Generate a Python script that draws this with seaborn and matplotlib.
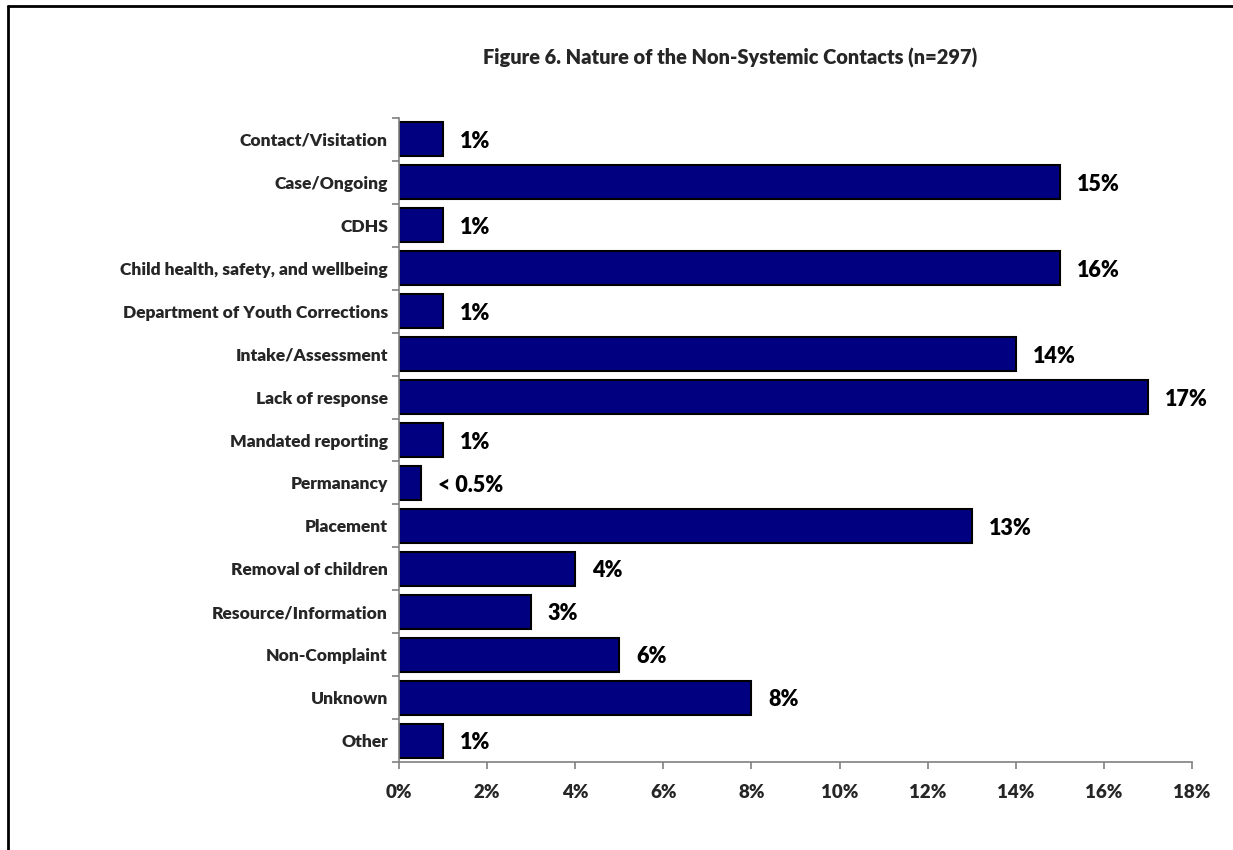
import matplotlib
matplotlib.use("Agg")
import matplotlib.pyplot as plt
from matplotlib.lines import Line2D
from matplotlib.ticker import MultipleLocator, FuncFormatter
import pandas as pd
import seaborn as sns

# data
categories = [
    "Contact/Visitation", "Case/Ongoing", "CDHS",
    "Child health, safety, and wellbeing", "Department of Youth Corrections",
    "Intake/Assessment", "Lack of response", "Mandated reporting",
    "Permanancy", "Placement", "Removal of children",
    "Resource/Information", "Non-Complaint", "Unknown", "Other",
]
percent = [1, 15, 1, 15, 1, 14, 17, 1, 0.5, 13, 4, 3, 5, 8, 1]
value_labels = ["1%", "15%", "1%", "16%", "1%", "14%", "17%", "1%",
                "< 0.5%", "13%", "4%", "3%", "6%", "8%", "1%"]

df = pd.DataFrame({"category": categories, "percent": percent})

WEIGHT = "heavy"

sns.set_style("white")
plt.rcParams["font.family"] = ["Lato", "DejaVu Sans"]
plt.rcParams["font.weight"] = WEIGHT

fig = plt.figure(figsize=(12.33, 8.5), dpi=100)
ax = fig.add_axes([0.3236, 0.1035, 0.6431, 0.7577])

sns.barplot(data=df, x="percent", y="category", orient="h", ax=ax,
            color="#000080", saturation=1, width=0.79,
            edgecolor="black", linewidth=1.5)

for i, (v, lab) in enumerate(zip(percent, value_labels)):
    ax.text(v + 0.38, i + 0.05, lab, va="center", ha="left",
            fontsize=15.5, fontweight=WEIGHT, color="black")

ax.set_xlim(0, 18)
ax.set_ylim(len(categories) - 0.5, -0.5)
ax.xaxis.set_major_locator(MultipleLocator(2))
ax.xaxis.set_major_formatter(FuncFormatter(lambda x, _: f"{x:.0f}%"))
ax.set_xlabel("")
ax.set_ylabel("")

# category boundary ticks on the y axis
ax.set_yticks([i - 0.5 for i in range(len(categories) + 1)], minor=True)
ax.tick_params(axis="y", which="major", length=0, pad=8, labelsize=12.55)
ax.tick_params(axis="y", which="minor", length=5, width=1.2, color="#808080",
               direction="out", left=True)
ax.tick_params(axis="x", which="major", length=5, width=1.2, color="#808080",
               direction="out", bottom=True, pad=11, labelsize=13.5)
for lbl in ax.get_yticklabels() + ax.get_xticklabels():
    lbl.set_fontweight(WEIGHT)

for side in ["top", "right"]:
    ax.spines[side].set_visible(False)
for side in ["left", "bottom"]:
    ax.spines[side].set_color("#808080")
    ax.spines[side].set_linewidth(1.2)

fig.text(0.592, 0.932, "Figure 6. Nature of the Non-Systemic Contacts (n=297)",
         ha="center", va="center", fontsize=14.4, fontweight=WEIGHT)

# frame of the original figure (only top and left edges are in view)
fig.add_artist(Line2D([0.0068, 1.0], [0.9935, 0.9935], color="black", lw=2,
                      transform=fig.transFigure))
fig.add_artist(Line2D([0.0068, 0.0068], [0.0, 0.9935], color="black", lw=2,
                      transform=fig.transFigure))

fig.savefig("out.png", dpi=100)
